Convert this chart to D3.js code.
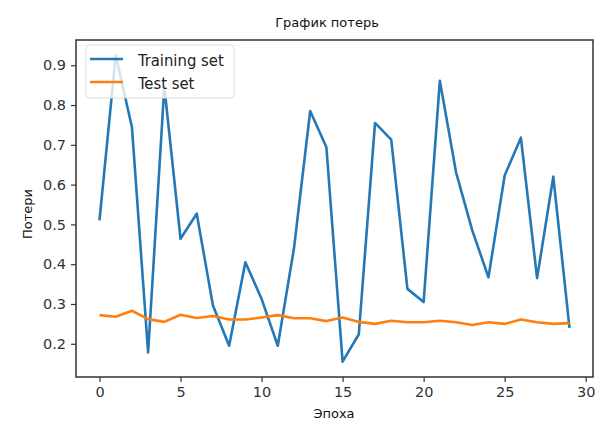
<!DOCTYPE html>
<html>
<head>
<meta charset="utf-8">
<script src="https://cdn.jsdelivr.net/npm/d3@7"></script>
<style>
  body { margin: 0; background: #fff; }
  svg { display: block; }
</style>
</head>
<body>
<svg id="chart"></svg>
<script>
let width = 614,
  height = 441;

// Data
const epochs = d3.range(0, 30);
const trainLoss = [
  0.51, 0.925, 0.745, 0.178, 0.846, 0.464, 0.527, 0.296, 0.195, 0.405,
  0.313, 0.195, 0.44, 0.785, 0.694, 0.155, 0.224, 0.755, 0.713, 0.338,
  0.305, 0.861, 0.631, 0.485, 0.367, 0.623, 0.718, 0.365, 0.62, 0.24,
];
const testLoss = [
  0.272, 0.268, 0.283, 0.262, 0.255, 0.273, 0.265, 0.27, 0.261, 0.261,
  0.266, 0.272, 0.264, 0.264, 0.257, 0.266, 0.255, 0.25, 0.258, 0.254,
  0.254, 0.258, 0.254, 0.247, 0.254, 0.25, 0.261, 0.254, 0.25, 0.252,
];
const xTicks = [0, 5, 10, 15, 20, 25, 30];
const yTicks = [0.2, 0.3, 0.4, 0.5, 0.6, 0.7, 0.8, 0.9];
const seriesNames = ["Training set", "Test set"];
const seriesColors = ["#2478b6", "#ff7f0e"];

let margin = { left: 76, right: 21, top: 40, bottom: 64 };

let svg = d3.select("#chart").attr("width", width).attr("height", height);

// Scales (matplotlib style 5% margins)
var x = d3
  .scaleLinear()
  .domain([-1.45, 30.45])
  .range([margin.left, width - margin.right]);
var y = d3
  .scaleLinear()
  .domain([0.1165, 0.9635])
  .range([height - margin.bottom, margin.top]);

var font = "DejaVu Sans, sans-serif";

// Lines
var line = d3
  .line()
  .x((d, i) => x(epochs[i]))
  .y((d) => y(d));

[trainLoss, testLoss].forEach((s, k) => {
  svg
    .append("path")
    .datum(s)
    .attr("fill", "none")
    .attr("stroke", seriesColors[k])
    .attr("stroke-width", 2.6)
    .attr("stroke-linejoin", "round")
    .attr("d", line);
});

// Axes
var xAxis = svg
  .append("g")
  .attr("transform", "translate(0," + (height - margin.bottom) + ")")
  .call(d3.axisBottom(x).tickValues(xTicks).tickSize(5).tickPadding(5));
var yAxis = svg
  .append("g")
  .attr("transform", "translate(" + margin.left + ",0)")
  .call(
    d3
      .axisLeft(y)
      .tickValues(yTicks)
      .tickFormat(d3.format(".1f"))
      .tickSize(5)
      .tickPadding(5)
  );

[xAxis, yAxis].forEach((a) => {
  a.select(".domain").remove();
  a.selectAll(".tick line").attr("stroke", "#333").attr("stroke-width", 1.2);
  a.selectAll(".tick text")
    .attr("fill", "#333")
    .style("font-family", font)
    .style("font-size", "14.5px");
});

// Frame
svg
  .append("rect")
  .attr("x", margin.left)
  .attr("y", margin.top)
  .attr("width", width - margin.left - margin.right)
  .attr("height", height - margin.top - margin.bottom)
  .attr("fill", "none")
  .attr("stroke", "#333")
  .attr("stroke-width", 1.5);

// Title and labels
svg
  .append("text")
  .attr("x", 327)
  .attr("y", 27)
  .attr("text-anchor", "middle")
  .style("font-family", font)
  .style("font-size", "13px")
  .attr("fill", "#111")
  .text("График потерь");

svg
  .append("text")
  .attr("x", 334)
  .attr("y", 418)
  .attr("text-anchor", "middle")
  .style("font-family", font)
  .style("font-size", "13px")
  .attr("fill", "#111")
  .text("Эпоха");

svg
  .append("text")
  .attr("transform", "translate(32,214) rotate(-90)")
  .attr("text-anchor", "middle")
  .style("font-family", font)
  .style("font-size", "13px")
  .attr("fill", "#111")
  .text("Потери");

// Legend
var legend = svg.append("g").attr("transform", "translate(86,45)");
legend
  .append("rect")
  .attr("width", 148)
  .attr("height", 53)
  .attr("rx", 3)
  .attr("fill", "#fff")
  .attr("fill-opacity", 0.8)
  .attr("stroke", "#ddd");

seriesNames.forEach((n, i) => {
  legend
    .append("line")
    .attr("x1", 4)
    .attr("x2", 37)
    .attr("y1", 14 + i * 23)
    .attr("y2", 14 + i * 23)
    .attr("stroke", seriesColors[i])
    .attr("stroke-width", 2.6);
  legend
    .append("text")
    .attr("x", 52)
    .attr("y", 21 + i * 23)
    .style("font-family", "DejaVu Sans Condensed, DejaVu Sans, sans-serif")
    .style("font-size", "16.5px")
    .attr("fill", "#222")
    .text(n);
});
</script>
</body>
</html>
